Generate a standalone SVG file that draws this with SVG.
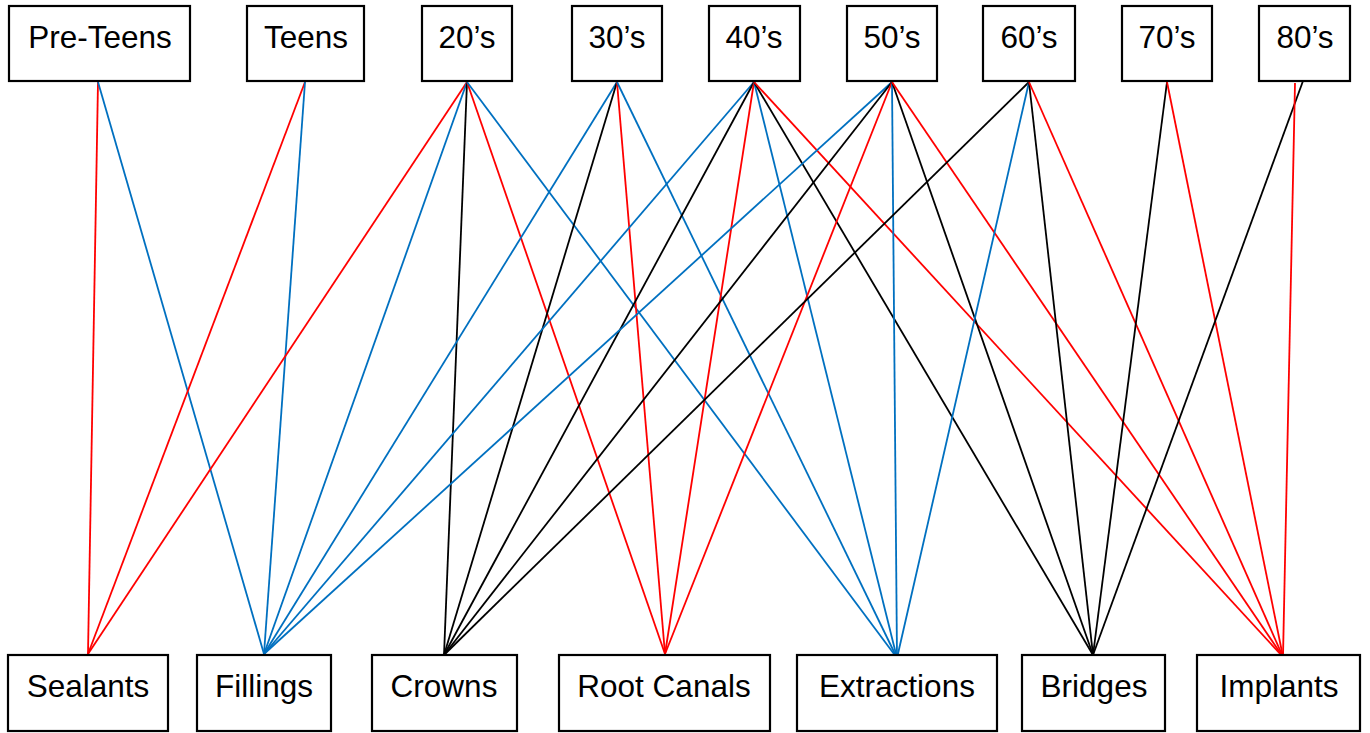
<svg xmlns="http://www.w3.org/2000/svg" width="1370" height="733" viewBox="0 0 1370 733">
<style>
.box{fill:#fff;stroke:#000;stroke-width:2.2}
.t{font-family:"Liberation Sans",Arial,sans-serif;font-size:31.5px;fill:#000;text-anchor:middle}
.r{stroke:#ff0000;stroke-width:1.8;fill:none}
.b{stroke:#0070c0;stroke-width:1.8;fill:none}
.k{stroke:#000;stroke-width:1.8;fill:none}
</style>
<rect width="1370" height="733" fill="#fff"/>
<g id="connectors">
<line class="r" x1="98" y1="82" x2="88" y2="654"/>
<line class="b" x1="98" y1="82" x2="264" y2="654"/>
<line class="r" x1="305" y1="82" x2="88" y2="654"/>
<line class="b" x1="305" y1="82" x2="264" y2="654"/>
<line class="r" x1="467" y1="82" x2="88" y2="654"/>
<line class="b" x1="467" y1="82" x2="264" y2="654"/>
<line class="k" x1="467" y1="82" x2="444" y2="655"/>
<line class="r" x1="467" y1="82" x2="665" y2="654"/>
<line class="b" x1="467" y1="82" x2="897" y2="658"/>
<line class="b" x1="617" y1="82" x2="264" y2="654"/>
<line class="k" x1="617" y1="82" x2="444" y2="655"/>
<line class="r" x1="617" y1="82" x2="665" y2="654"/>
<line class="b" x1="617" y1="82" x2="897" y2="658"/>
<line class="b" x1="754" y1="82" x2="264" y2="654"/>
<line class="k" x1="754" y1="82" x2="444" y2="655"/>
<line class="r" x1="754" y1="82" x2="665" y2="654"/>
<line class="b" x1="754" y1="82" x2="897" y2="658"/>
<line class="k" x1="754" y1="82" x2="1093" y2="655"/>
<line class="r" x1="754" y1="82" x2="1283" y2="657"/>
<line class="b" x1="892" y1="82" x2="264" y2="654"/>
<line class="k" x1="892" y1="82" x2="444" y2="655"/>
<line class="r" x1="892" y1="82" x2="665" y2="654"/>
<line class="b" x1="892" y1="82" x2="897" y2="658"/>
<line class="k" x1="892" y1="82" x2="1093" y2="655"/>
<line class="r" x1="892" y1="82" x2="1283" y2="657"/>
<line class="k" x1="1029" y1="82" x2="444" y2="655"/>
<line class="b" x1="1029" y1="82" x2="897" y2="658"/>
<line class="k" x1="1029" y1="82" x2="1093" y2="655"/>
<line class="r" x1="1029" y1="82" x2="1283" y2="657"/>
<line class="k" x1="1167" y1="82" x2="1093" y2="655"/>
<line class="r" x1="1167" y1="82" x2="1283" y2="657"/>
<line class="k" x1="1303" y1="81" x2="1093" y2="655"/>
<line class="r" x1="1295" y1="83" x2="1283" y2="657"/>
</g>
<g id="pre-teens"><rect class="box" x="9" y="6" width="181" height="75"/><text class="t" x="100" y="48">Pre-Teens</text></g>
<g id="teens"><rect class="box" x="247" y="6" width="117" height="75"/><text class="t" x="306" y="48">Teens</text></g>
<g id="twenties"><rect class="box" x="422" y="6" width="90" height="75"/><text class="t" x="467" y="48">20’s</text></g>
<g id="thirties"><rect class="box" x="572" y="6" width="90" height="75"/><text class="t" x="617" y="48">30’s</text></g>
<g id="forties"><rect class="box" x="709" y="6" width="91" height="75"/><text class="t" x="754" y="48">40’s</text></g>
<g id="fifties"><rect class="box" x="847" y="6" width="90" height="75"/><text class="t" x="892" y="48">50’s</text></g>
<g id="sixties"><rect class="box" x="983" y="6" width="92" height="75"/><text class="t" x="1029" y="48">60’s</text></g>
<g id="seventies"><rect class="box" x="1122" y="6" width="90" height="75"/><text class="t" x="1167" y="48">70’s</text></g>
<g id="eighties"><rect class="box" x="1259" y="6" width="91" height="75"/><text class="t" x="1305" y="48">80’s</text></g>
<g id="sealants"><rect class="box" x="8" y="655" width="160" height="76"/><text class="t" x="88" y="697">Sealants</text></g>
<g id="fillings"><rect class="box" x="197" y="655" width="134" height="76"/><text class="t" x="264" y="697">Fillings</text></g>
<g id="crowns"><rect class="box" x="372" y="655" width="145" height="76"/><text class="t" x="444" y="697">Crowns</text></g>
<g id="root-canals"><rect class="box" x="559" y="655" width="211" height="76"/><text class="t" x="664" y="697">Root Canals</text></g>
<g id="extractions"><rect class="box" x="797" y="655" width="200" height="76"/><text class="t" x="897" y="697">Extractions</text></g>
<g id="bridges"><rect class="box" x="1022" y="655" width="143" height="76"/><text class="t" x="1094" y="697">Bridges</text></g>
<g id="implants"><rect class="box" x="1197" y="655" width="163" height="76"/><text class="t" x="1279" y="697">Implants</text></g>
</svg>
